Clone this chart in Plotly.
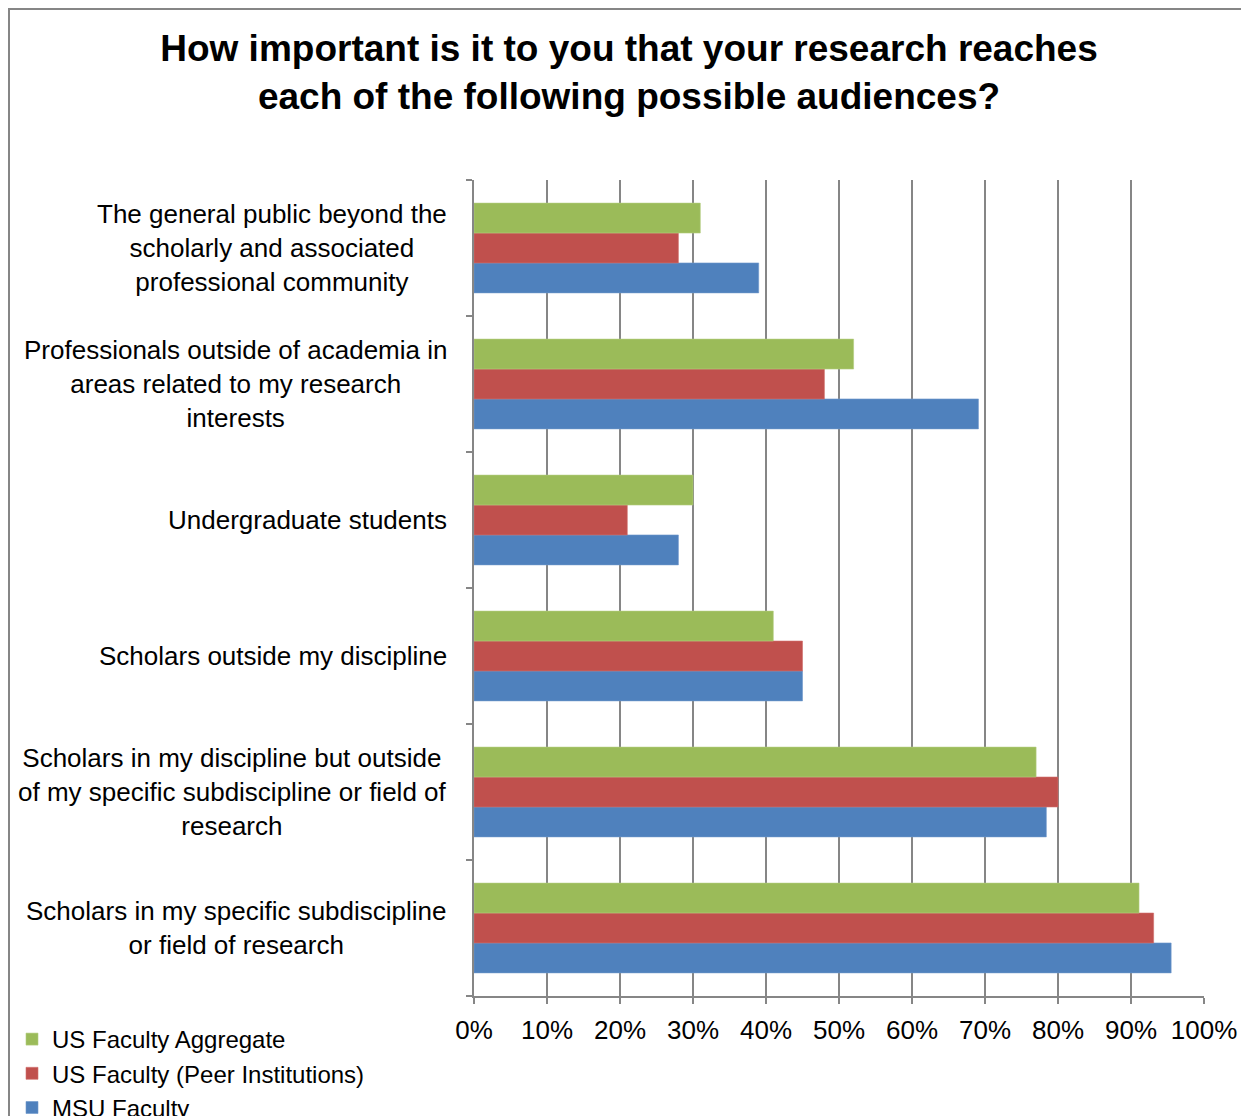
import plotly.graph_objects as go

categories = [
    "Scholars in my specific subdiscipline<br>or field of research",
    "Scholars in my discipline but outside<br>of my specific subdiscipline or field of<br>research",
    "Scholars outside my discipline",
    "Undergraduate students",
    "Professionals outside of academia in<br>areas related to my research<br>interests",
    "The general public beyond the<br>scholarly and associated<br>professional community",
]
msu_faculty = [0.955, 0.784, 0.45, 0.28, 0.691, 0.39]
us_peer = [0.931, 0.80, 0.45, 0.21, 0.48, 0.28]
us_aggregate = [0.911, 0.77, 0.41, 0.30, 0.52, 0.31]
x_ticks = [0, 0.1, 0.2, 0.3, 0.4, 0.5, 0.6, 0.7, 0.8, 0.9, 1.0]
x_tick_labels = ["0%", "10%", "20%", "30%", "40%", "50%", "60%", "70%", "80%", "90%", "100%"]

# page has an 8px body margin, so the figure is drawn 8px in from the top-left
W, H = 1241, 1108
L, R, T, B = 466, 45, 172, 120
PW, PH = W - L - R, H - T - B
FONT = "Liberation Sans, Arial, sans-serif"

fig = go.Figure()
series = [
    ("MSU Faculty", msu_faculty, "#4F81BD", "#6F97CB"),
    ("US Faculty (Peer Institutions)", us_peer, "#C0504D", "#D06E6B"),
    ("US Faculty Aggregate", us_aggregate, "#9BBB59", "#B3CD80"),
]
for name, vals, col, lcol in series:
    fig.add_trace(go.Bar(
        y=categories, x=vals, name=name, orientation="h",
        marker=dict(color=col, line=dict(color=lcol, width=0.6)),
    ))

for c in categories:
    fig.add_annotation(
        x=-25 / PW, xref="paper", y=c, yref="y", text=c, showarrow=False,
        xanchor="right", yanchor="middle", align="center",
        font=dict(family=FONT, size=26, color="black"),
    )

fig.update_layout(
    width=W, height=H,
    margin=dict(l=L, r=R, t=T, b=B, autoexpand=False),
    paper_bgcolor="white", plot_bgcolor="white",
    barmode="group", bargap=0.34, bargroupgap=0,
    font=dict(family=FONT, size=26, color="black"),
    title=dict(
        text="<b>How important is it to you that your research reaches<br>each of the following possible audiences?</b>",
        x=621 / W, xanchor="center", xref="container",
        y=1 - 53 / H, yanchor="top", yref="container",
        font=dict(family=FONT, size=37, color="black"),
    ),
    legend=dict(
        x=(4 - L) / PW, xanchor="left", y=(H - B - 1009) / PH, yanchor="top",
        traceorder="reversed", font=dict(family=FONT, size=24, color="black"),
        bgcolor="rgba(0,0,0,0)", tracegroupgap=0, itemwidth=30,
    ),
    showlegend=True,
    xaxis=dict(
        range=[0, 1], tickvals=x_ticks, ticktext=x_tick_labels,
        showgrid=True, gridcolor="#868686", gridwidth=2,
        showline=True, linecolor="#868686", linewidth=2,
        ticks="outside", ticklen=6, tickcolor="#868686", tickwidth=2,
        ticklabelstandoff=4, zeroline=False, fixedrange=True,
        tickfont=dict(family=FONT, size=26, color="black"),
    ),
    yaxis=dict(
        type="category", categoryorder="array", categoryarray=categories,
        showticklabels=False, showgrid=False,
        showline=True, linecolor="#868686", linewidth=2,
        ticks="outside", ticklen=6, tickcolor="#868686", tickwidth=2,
        tickson="boundaries", fixedrange=True,
    ),
)

# outer chart border (top and left visible)
fig.add_shape(
    type="rect", xref="paper", yref="paper",
    x0=(1 - L) / PW, x1=(W + 20 - L) / PW,
    y0=(H - B - (H + 20)) / PH, y1=(H - B - 1) / PH,
    line=dict(color="#868686", width=2), fillcolor="rgba(0,0,0,0)", layer="below",
)

fig.write_html("out.html")
